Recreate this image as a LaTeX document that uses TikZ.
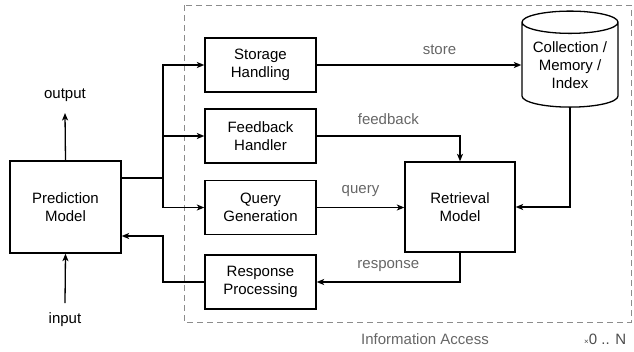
\documentclass[tikz,border=0pt]{standalone}
\usepackage{fontspec}
\setmainfont{Liberation Sans}
\usetikzlibrary{arrows.meta,shapes.geometric}
\begin{document}
\begin{tikzpicture}[x=1pt,y=-1pt,
  box/.style={draw,line width=1.3pt,align=center,inner sep=0pt,font=\fontsize{15}{17.7}\selectfont},
  conn/.style={line width=1.3pt,-{Stealth[length=7.5pt,width=6pt,inset=2pt]}},
  lab/.style={text=black!60,font=\fontsize{15}{17.7}\selectfont,inner sep=0pt},
  txt/.style={font=\fontsize{15}{17.7}\selectfont,inner sep=0pt}]
\useasboundingbox (0,0) rectangle (634,351);
% dashed region
\draw[black!45,line width=1pt,dash pattern=on 6pt off 4pt] (184,5) rectangle (631,322);
% nodes
\node[box,minimum width=111pt,minimum height=92pt] (pm) at (65.5,207) {Prediction\\Model};
\node[box,minimum width=111pt,minimum height=54pt] (sh) at (260.5,65) {Storage\\Handling};
\node[box,minimum width=111pt,minimum height=54pt] (fh) at (260.5,136) {Feedback\\Handler};
\node[box,minimum width=111pt,minimum height=54pt] (qg) at (260.5,207.5) {Query\\Generation};
\node[box,minimum width=111pt,minimum height=54pt] (rp) at (260.5,282) {Response\\Processing};
\node[box,minimum width=110pt,minimum height=90pt] (rm) at (460,207) {Retrieval\\Model};
\node[box,cylinder,shape border rotate=90,aspect=0.3,minimum width=96pt,minimum height=96pt] (cm) at (570,65) {Collection /\\Memory /\\Index};
% texts
\node[txt] (out) at (65,95) {output};
\node[txt] (in) at (65,320) {input};
\coordinate (inS) at (65,303);
\coordinate (outE) at (65,113);
\draw[conn] (pm.north) -- (outE);
\draw[conn] (inS) -- (pm.south);
% bus
\coordinate (busC) at (163,178);
\draw[line width=1.3pt] (pm.east |- busC) -- (busC);
\draw[conn] (busC) |- (sh.west);
\draw[conn] (busC) |- (fh.west);
\draw[conn] (busC) |- (qg.west);
% return
\coordinate (retA) at (163,236);
\draw[conn] (rp.west) -| (retA) -- (pm.east |- retA);
% connectors
\draw[conn] (sh.east) -- (sh.east -| cm.west) node[lab,pos=0.6,above=10pt] (lstore) {store};
\draw[conn] (fh.east) -| (rm.north) node[lab,pos=0.25,above=11pt] (lfb) {feedback};
\draw[conn] (qg.east) -- (rm.west |- qg.east) node[lab,midway,above=10pt] (lq) {query};
\draw[conn] (rm.south) |- (rp.east) node[lab,pos=0.75,above=10pt] (lr) {response};
\draw[conn] (cm.south) |- (rm.east);
% bottom labels
\node[lab] (ia) at (425,339) {Information Access};
\node[txt,text=black!70,anchor=west] (n) at (584,339) {{\fontsize{8}{8}\selectfont ×}0 .. N};
\end{tikzpicture}
\end{document}
